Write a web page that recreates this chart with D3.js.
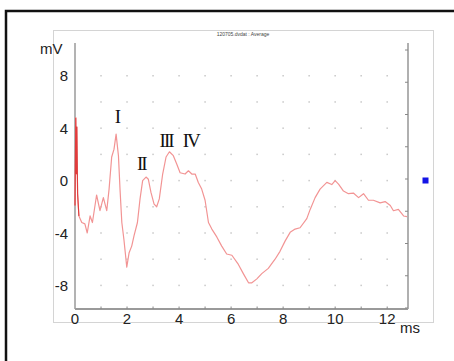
<!DOCTYPE html>
<html>
<head>
<meta charset="utf-8">
<script src="https://cdn.jsdelivr.net/npm/d3@7"></script>
<style>
  html, body { margin: 0; padding: 0; background: #fff; }
  svg { display: block; }
</style>
</head>
<body>
<div id="graph"></div>
<script>
// averaged response
let timeMs = [0.00, 0.03, 0.05, 0.07, 0.10, 0.15, 0.26, 0.38, 0.47, 0.58, 0.67, 0.83, 0.96, 1.09, 1.22, 1.31,
  1.41, 1.50, 1.58, 1.67, 1.73, 1.80, 1.88, 1.99, 2.08, 2.18, 2.27, 2.40, 2.50, 2.60, 2.73, 2.82, 2.92,
  3.04, 3.14, 3.24, 3.37, 3.50, 3.63, 3.78, 3.91, 4.04, 4.23, 4.36, 4.49, 4.62, 4.74, 4.87, 5.00, 5.13,
  5.26, 5.45, 5.64, 5.83, 6.03, 6.28, 6.47, 6.67, 6.80, 6.99, 7.18, 7.43, 7.69, 7.88, 8.08, 8.27, 8.46,
  8.65, 8.91, 9.04, 9.23, 9.42, 9.68, 9.87, 10.00, 10.13, 10.32, 10.51, 10.70, 10.90, 11.09, 11.28,
  11.47, 11.73, 11.92, 12.12, 12.24, 12.43, 12.63, 12.76];
let voltageMv = [-1.9, 4.8, 0.5, 4.1, -1.0, -2.7, -3.2, -3.3, -4.0, -2.7, -3.2, -1.1, -2.3, -1.3, -2.3, -0.65,
  1.8, 2.4, 3.55, 1.9, -0.65, -3.2, -4.5, -6.6, -5.5, -5.0, -4.2, -3.2, -1.4, 0.0, 0.27, 0.1, -0.9,
  -1.8, -2.0, -1.4, 0.5, 1.8, 2.2, 1.9, 1.26, 0.6, 0.5, 0.75, 0.5, 0.5, -0.14, -0.65, -1.5, -3.2,
  -3.7, -4.3, -5.0, -5.6, -5.7, -6.4, -7.1, -7.8, -7.8, -7.5, -7.1, -6.7, -6.0, -5.4, -4.6, -3.95, -3.7,
  -3.6, -2.9, -2.2, -1.3, -0.65, -0.14, -0.3, 0.0, -0.27, -0.8, -1.0, -0.95, -1.3, -1.0, -1.5,
  -1.5, -1.7, -1.6, -1.9, -2.3, -2.2, -2.7, -2.75];

let xTicks = [0, 2, 4, 6, 8, 10, 12];
let yTicks = [-8, -4, 0, 4, 8];
let peakNames = ['I', 'II', 'III', 'IV'];
let peakTimes = [1.65, 2.55, 3.50, 4.45];
let peakVolts = [4.4, 0.8, 2.55, 2.55];

let width = 454, height = 361;
let x = d3.scaleLinear().domain([0, 12.8]).range([75, 408]);
let y = d3.scaleLinear().domain([-9.8, 10.5]).range([309, 43]);
let yRight = d3.scaleLinear().domain([0, 8]).range([308, 50]);

let svg = d3.select('#graph')
  .append('svg')
  .attr('width', width)
  .attr('height', height);

// outer frame (cut at right/bottom)
svg.append('path')
  .attr('d', 'M6,361V11H454')
  .attr('fill', 'none')
  .attr('stroke', '#111')
  .attr('stroke-width', 2.5);

// panel
svg.append('rect')
  .attr('x', 53.5).attr('y', 30.5)
  .attr('width', 380).attr('height', 292)
  .attr('fill', '#fff')
  .attr('stroke', '#d4d4d4');

svg.append('text')
  .attr('x', 243).attr('y', 35.5)
  .attr('text-anchor', 'middle')
  .attr('font-family', 'Liberation Sans, Arial, sans-serif')
  .attr('font-size', 5)
  .attr('fill', '#444')
  .text('120705.dvdat : Average');

// dotted grid
let gridX = d3.range(1, 13), gridY = d3.range(-8, 9, 2);
let dots = [];
gridX.forEach(function(gx) { gridY.forEach(function(gy) { dots.push([gx, gy]); }); });
svg.append('g')
  .selectAll('rect')
  .data(dots)
  .enter().append('rect')
  .attr('x', function(d) { return x(d[0]) - 0.75; })
  .attr('y', function(d) { return y(d[1]) - 0.75; })
  .attr('width', 1.5).attr('height', 1.5)
  .attr('fill', '#c8c8c8');

// axes
let axisColor = '#9a9a9a';
svg.append('line')
  .attr('x1', x(0)).attr('x2', x(0))
  .attr('y1', y(10.5)).attr('y2', y(-9.8))
  .attr('stroke', axisColor).attr('stroke-width', 1.5);
svg.append('line')
  .attr('x1', x(0)).attr('x2', x(12.8))
  .attr('y1', y(-9.8)).attr('y2', y(-9.8))
  .attr('stroke', axisColor).attr('stroke-width', 2);
svg.append('line')
  .attr('x1', x(12.8)).attr('x2', x(12.8))
  .attr('y1', y(10.5)).attr('y2', y(-9.8))
  .attr('stroke', '#b0b0b0').attr('stroke-width', 2);

// minor ticks on the x axis
svg.append('g')
  .selectAll('line')
  .data(d3.range(1, 13))
  .enter().append('line')
  .attr('x1', function(d) { return x(d); }).attr('x2', function(d) { return x(d); })
  .attr('y1', y(-9.8)).attr('y2', y(-9.8) - 2.5)
  .attr('stroke', '#888');

// ticks on the right axis
svg.append('g')
  .selectAll('line')
  .data(yRight.ticks(8))
  .enter().append('line')
  .attr('x1', x(12.8) - 3).attr('x2', x(12.8))
  .attr('y1', function(d) { return yRight(d); }).attr('y2', function(d) { return yRight(d); })
  .attr('stroke', '#888');

let labelFont = 'Liberation Sans, Arial, sans-serif';
svg.append('g')
  .selectAll('text')
  .data(xTicks)
  .enter().append('text')
  .attr('x', function(d) { return x(d); })
  .attr('y', 324)
  .attr('text-anchor', 'middle')
  .attr('font-family', labelFont)
  .attr('font-size', 15)
  .attr('fill', '#222')
  .text(function(d) { return d; });

svg.append('g')
  .selectAll('text')
  .data(yTicks)
  .enter().append('text')
  .attr('x', 68)
  .attr('y', function(d) { return y(d) + 5.5; })
  .attr('text-anchor', 'end')
  .attr('font-family', labelFont)
  .attr('font-size', 15)
  .attr('fill', '#222')
  .text(function(d) { return d; });

svg.append('text')
  .attr('x', 40).attr('y', 54)
  .attr('font-family', labelFont).attr('font-size', 15).attr('fill', '#222')
  .text('mV');
svg.append('text')
  .attr('x', 400).attr('y', 333)
  .attr('font-family', labelFont).attr('font-size', 15).attr('fill', '#222')
  .text('ms');

// waveform
let points = timeMs.map(function(t, i) { return [t, voltageMv[i]]; });
let line = d3.line()
  .x(function(d) { return x(d[0]); })
  .y(function(d) { return y(d[1]); })
  .curve(d3.curveLinear);

svg.append('path')
  .datum(points)
  .attr('d', line)
  .attr('fill', 'none')
  .attr('stroke', '#f29494')
  .attr('stroke-width', 1.2)
  .attr('stroke-linejoin', 'round');

// stimulus artefact is drawn darker
svg.append('path')
  .datum(points.slice(0, 6))
  .attr('d', line)
  .attr('fill', 'none')
  .attr('stroke', '#e03c3c')
  .attr('stroke-width', 1.1);

// peak labels
svg.append('g')
  .selectAll('text')
  .data(peakNames)
  .enter().append('text')
  .attr('x', function(d, i) { return x(peakTimes[i]); })
  .attr('y', function(d, i) { return y(peakVolts[i]); })
  .attr('text-anchor', 'middle')
  .attr('font-family', 'Liberation Serif, Times New Roman, serif')
  .attr('font-size', 19)
  .attr('letter-spacing', function(d) { return d.length > 1 ? -2 : 0; })
  .attr('fill', '#111')
  .text(function(d) { return d; });

// blue marker
svg.append('rect')
  .attr('x', 422.5).attr('y', 177.5)
  .attr('width', 6).attr('height', 6)
  .attr('fill', '#1414e6');
</script>
</body>
</html>
